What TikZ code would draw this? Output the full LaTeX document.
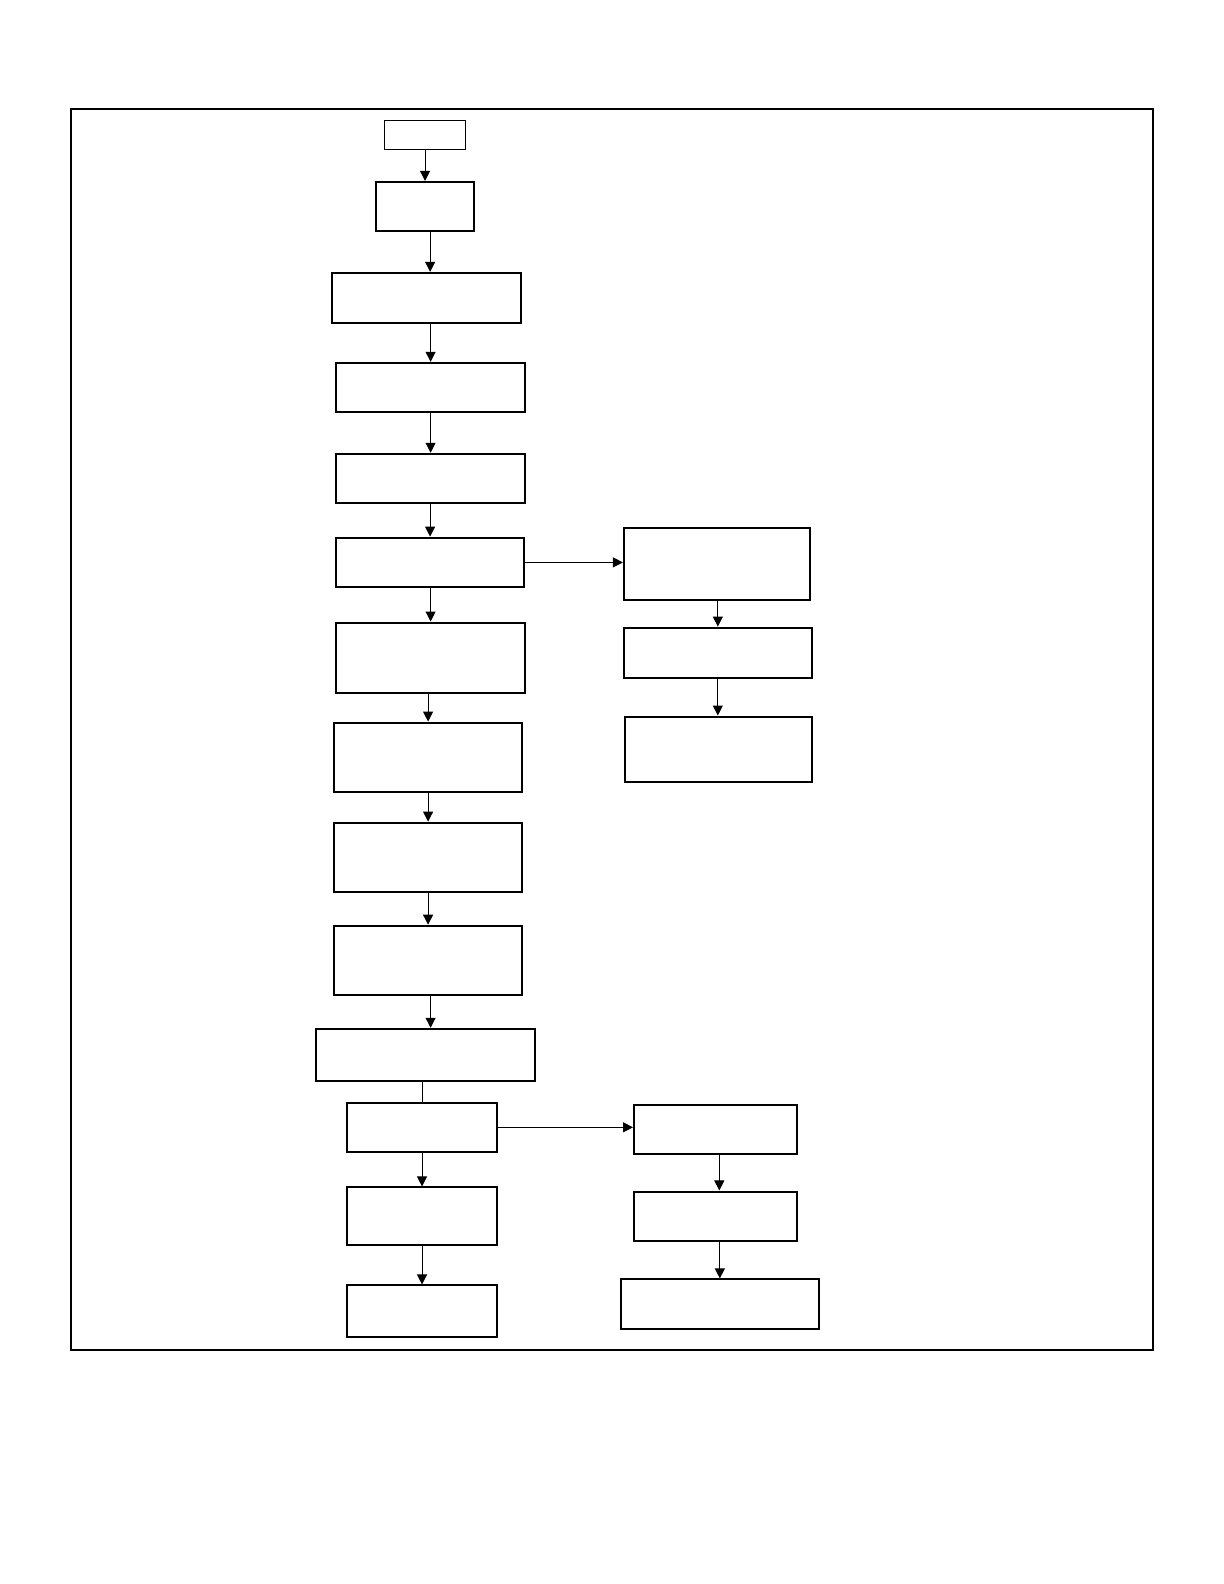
\documentclass[tikz,border=0pt]{standalone}
\usetikzlibrary{arrows.meta}

\tikzset{
  box/.style 2 args={draw,line width=1pt,inner sep=0pt,
    minimum width=#1*0.5048pt,minimum height=#2*0.5053pt},
  startbox/.style 2 args={box={#1}{#2},line width=0.5pt},
  arr/.style={-{Triangle[length=5pt,width=5pt]},line width=0.5pt},
  link/.style={line width=0.5pt}
}

\begin{document}
\begin{tikzpicture}[x=0.5048pt,y=-0.5053pt]
   \useasboundingbox (0pt,0pt) rectangle (612pt,-792pt);
   \draw[line width=1pt] (70,108) rectangle (1142,1336);

   % main column
   \node[startbox={80}{29}] (b0) at (421,133.5) {};
   \node[box={97}{49}] (b1) at (420.5,204.5) {};
   \node[box={187}{50}] (b2) at (422.5,295) {};
   \node[box={187}{49}] (b3) at (426.5,383.5) {};
   \node[box={187}{49}] (b4) at (426.5,473.5) {};
   \node[box={186}{49}] (b5) at (426,556.5) {};
   \node[box={187}{70}] (b6) at (426.5,651) {};
   \node[box={186}{69}] (b7) at (424,749.5) {};
   \node[box={186}{69}] (b8) at (424,848.5) {};
   \node[box={186}{69}] (b9) at (424,950.5) {};
   \node[box={217}{52}] (b10) at (421.5,1044) {};
   \node[box={148}{49}] (b11) at (418,1115.5) {};
   \node[box={148}{57}] (b12) at (418,1203.5) {};
   \node[box={148}{51}] (b13) at (418,1297.5) {};

   % upper branch
   \node[box={184}{72}] (r1) at (710,558) {};
   \node[box={186}{50}] (r2) at (711,646) {};
   \node[box={185}{65}] (r3) at (711.5,741.5) {};

   % lower branch
   \node[box={161}{49}] (l1) at (708.5,1117.5) {};
   \node[box={161}{49}] (l2) at (708.5,1203.5) {};
   \node[box={196}{49}] (l3) at (713,1290.5) {};

   \draw[arr] (b0.south) -- (b0.south |- b1.north);
   \draw[arr] ([xshift=2.8pt]b1.south) -- ([xshift=2.8pt]b1.south |- b2.north);
   \draw[arr] (b2.south -| b3.north) -- (b3.north);
   \draw[arr] (b3.south) -- (b3.south |- b4.north);
   \draw[arr] (b4.south -| b5.north) -- (b5.north);
   \draw[arr] (b5.south -| b6.north) -- (b6.north);
   \draw[arr] (b6.south -| b7.north) -- (b7.north);
   \draw[arr] (b7.south) -- (b7.south |- b8.north);
   \draw[arr] (b8.south) -- (b8.south |- b9.north);
   \draw[arr] (b9.south -| b6.north) -- (b6.north |- b10.north);
   \draw[link] (b10.south -| b11.north) -- (b11.north);
   \draw[arr] (b11.south) -- (b11.south |- b12.north);
   \draw[arr] (b12.south) -- (b12.south |- b13.north);

   \draw[arr] (b5.east) -- (b5.east -| r1.west);
   \draw[arr] (r1.south -| r2.north) -- (r2.north);
   \draw[arr] (r2.south) -- (r2.south |- r3.north);

   \draw[arr] (b11.east) -- (b11.east -| l1.west);
   \draw[arr] ([xshift=2pt]l1.south) -- ([xshift=2pt]l1.south |- l2.north);
   \draw[arr] (l2.south -| l3.north) -- (l3.north);
\end{tikzpicture}
\end{document}
